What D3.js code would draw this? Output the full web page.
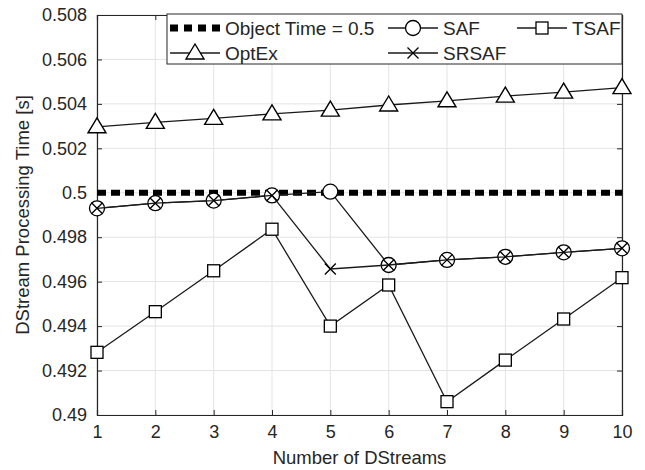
<!DOCTYPE html>
<html>
<head>
<meta charset="utf-8">
<script src="https://cdn.jsdelivr.net/npm/d3@7"></script>
<style>
  body { margin: 0; background: #fff; }
  text { font-family: "Liberation Sans", Arial, sans-serif; fill: #262626; }
</style>
</head>
<body>
<div id="chart"></div>
<script>
// data
const streams = [1, 2, 3, 4, 5, 6, 7, 8, 9, 10]
const objectTime = 0.5
const saf   = [0.4993, 0.49953, 0.49965, 0.49988, 0.50005, 0.49675, 0.49698, 0.49712, 0.49732, 0.4975]
const srsaf = [0.4993, 0.49953, 0.49965, 0.49988, 0.49657, 0.49675, 0.49698, 0.49712, 0.49732, 0.4975]
const tsaf  = [0.49282, 0.49465, 0.49649, 0.49836, 0.494, 0.49585, 0.4906, 0.49247, 0.49432, 0.49618]
const optex = [0.50297, 0.50317, 0.50335, 0.50355, 0.50372, 0.50395, 0.50414, 0.50435, 0.50453, 0.50473]
const yTicks = [0.49, 0.492, 0.494, 0.496, 0.498, 0.5, 0.502, 0.504, 0.506, 0.508]

const W = 645, H = 470
const margin = { top: 15, right: 23, bottom: 55, left: 97 }
const iw = W - margin.left - margin.right
const ih = H - margin.top - margin.bottom
const ink = '#262626'

const svg = d3.select('#chart').append('svg')
  .attr('width', W).attr('height', H)

const g = svg.append('g').attr('transform', `translate(${margin.left},${margin.top})`)

const x = d3.scaleLinear().domain([1, 10]).range([0, iw])
const y = d3.scaleLinear().domain([0.49, 0.508]).range([ih, 0])

// grid
g.append('g').selectAll('line.gx').data(streams).join('line')
  .attr('x1', d => x(d)).attr('x2', d => x(d))
  .attr('y1', 0).attr('y2', ih)
  .attr('stroke', '#e3e3e3').attr('stroke-width', 1)
g.append('g').selectAll('line.gy').data(yTicks).join('line')
  .attr('x1', 0).attr('x2', iw)
  .attr('y1', d => y(d)).attr('y2', d => y(d))
  .attr('stroke', '#e3e3e3').attr('stroke-width', 1)

// axes (ticks point inward like matlab)
const fmtY = d => d3.format('')(+d.toFixed(3))
const xAxis = g.append('g').attr('transform', `translate(0,${ih})`)
  .call(d3.axisBottom(x).tickValues(streams).tickFormat(d3.format('d')).tickSize(-5).tickPadding(10))
const yAxis = g.append('g')
  .call(d3.axisLeft(y).tickValues(yTicks).tickFormat(fmtY).tickSize(-5).tickPadding(10))
const xTop = g.append('g')
  .call(d3.axisTop(x).tickValues(streams).tickFormat('').tickSize(-5))
const yRight = g.append('g').attr('transform', `translate(${iw},0)`)
  .call(d3.axisRight(y).tickValues(yTicks).tickFormat('').tickSize(-5))

;[xAxis, yAxis, xTop, yRight].forEach(a => {
  a.selectAll('path').attr('stroke', ink).attr('stroke-width', 1.2)
  a.selectAll('line').attr('stroke', ink)
  a.selectAll('text').style('font-size', '18px').attr('fill', ink)
})

// series
const line = d3.line().x((d, i) => x(streams[i])).y(d => y(d))

g.append('line')
  .attr('x1', x(1)).attr('x2', x(10))
  .attr('y1', y(objectTime)).attr('y2', y(objectTime))
  .attr('stroke', '#000').attr('stroke-width', 6).attr('stroke-dasharray', '9,5')

const series = [
  { name: 'SAF', values: saf, marker: 'circle' },
  { name: 'TSAF', values: tsaf, marker: 'square' },
  { name: 'OptEx', values: optex, marker: 'triangle' },
  { name: 'SRSAF', values: srsaf, marker: 'cross' }
]

function drawMarker(sel, type) {
  if (type === 'circle') {
    sel.append('circle').attr('r', 7.5)
      .attr('fill', '#fff').attr('stroke', '#000').attr('stroke-width', 1.3)
  } else if (type === 'square') {
    sel.append('rect').attr('x', -6).attr('y', -6).attr('width', 12).attr('height', 12)
      .attr('fill', '#fff').attr('stroke', '#000').attr('stroke-width', 1.3)
  } else if (type === 'triangle') {
    sel.append('path').attr('d', 'M0,-9L9,6L-9,6Z')
      .attr('fill', '#fff').attr('stroke', '#000').attr('stroke-width', 1.4)
  } else if (type === 'cross') {
    sel.append('path').attr('d', 'M-5.5,-5.5L5.5,5.5M-5.5,5.5L5.5,-5.5')
      .attr('fill', 'none').attr('stroke', '#000').attr('stroke-width', 1.3)
  }
}

series.forEach(s => {
  g.append('path').datum(s.values)
    .attr('d', line)
    .attr('fill', 'none').attr('stroke', '#1a1a1a').attr('stroke-width', 1.3)
  g.append('g').selectAll('g').data(s.values).join('g')
    .attr('transform', (d, i) => `translate(${x(streams[i])},${y(d)})`)
    .each(function() { drawMarker(d3.select(this), s.marker) })
})

// axis labels
svg.append('text')
  .attr('x', margin.left + iw / 2).attr('y', H - 6)
  .attr('text-anchor', 'middle').style('font-size', '18.5px')
  .text('Number of DStreams')
svg.append('text')
  .attr('transform', `translate(29,${margin.top + ih / 2}) rotate(-90)`)
  .attr('text-anchor', 'middle').style('font-size', '18.5px')
  .text('DStream Processing Time [s]')

// legend
const legW = 455, legH = 50
const leg = svg.append('g')
  .attr('transform', `translate(${margin.left + iw - legW},${margin.top - 1})`)
leg.append('rect').attr('width', legW).attr('height', legH)
  .attr('fill', '#fff').attr('stroke', ink).attr('stroke-width', 1)

const legItems = [
  { name: 'Object Time = 0.5', marker: 'dash', col: 0, row: 0 },
  { name: 'SAF', marker: 'circle', col: 1, row: 0 },
  { name: 'TSAF', marker: 'square', col: 2, row: 0 },
  { name: 'OptEx', marker: 'triangle', col: 0, row: 1 },
  { name: 'SRSAF', marker: 'cross', col: 1, row: 1 }
]
const colX = [3, 221, 350]
const rowY = [14, 39]

legItems.forEach(it => {
  const li = leg.append('g').attr('transform', `translate(${colX[it.col]},${rowY[it.row]})`)
  if (it.marker === 'dash') {
    li.append('line').attr('x1', 0).attr('x2', 53)
      .attr('stroke', '#000').attr('stroke-width', 7).attr('stroke-dasharray', '8,6')
  } else {
    li.append('line').attr('x1', 0).attr('x2', 50)
      .attr('stroke', '#1a1a1a').attr('stroke-width', 1.3)
    drawMarker(li.append('g').attr('transform', 'translate(25,0)'), it.marker)
  }
  li.append('text').attr('x', 55).attr('y', 0).attr('dy', '0.35em')
    .style('font-size', '19px').text(it.name)
})
</script>
</body>
</html>
